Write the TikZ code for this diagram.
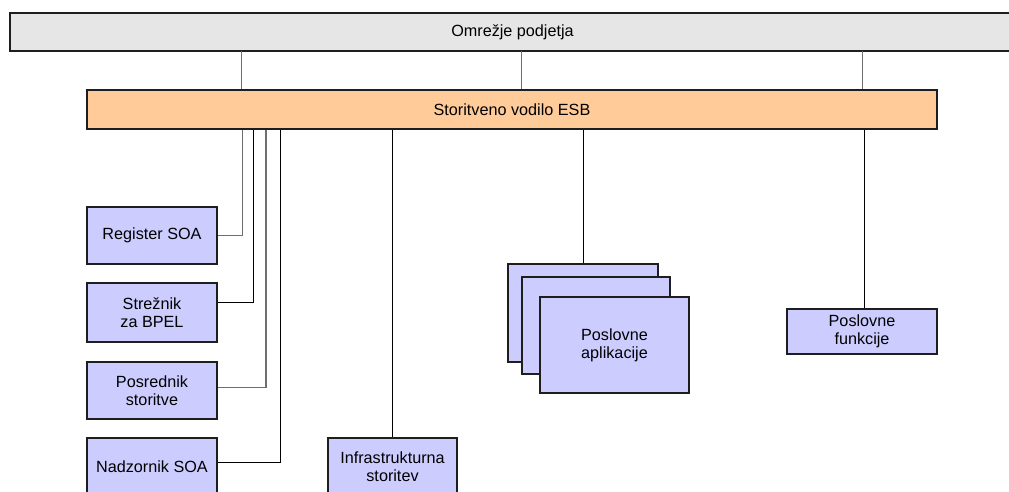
\documentclass[tikz,border=0pt]{standalone}
\usepackage{fontspec}
\setmainfont{Liberation Sans}
\definecolor{netfill}{RGB}{230,230,230}
\definecolor{busfill}{RGB}{255,204,153}
\definecolor{boxfill}{RGB}{204,204,255}
\definecolor{edge}{RGB}{30,30,30}
\definecolor{wiregray}{RGB}{110,110,110}
\begin{document}
\begin{tikzpicture}[x=1pt,y=-1pt,
  every node/.style={font=\fontsize{16.2}{18}\selectfont, align=center, inner sep=0pt},
  bar/.style={draw=edge, line width=1.2pt, rectangle},
  unit/.style={draw=edge, line width=1.2pt, fill=boxfill, minimum width=130pt, minimum height=57pt},
  wire/.style={draw=black, line width=1pt},
  graywire/.style={draw=wiregray, line width=1pt},
  thickgray/.style={draw=wiregray, line width=1.6pt}]
\useasboundingbox (0,0) rectangle (1009,492);

% network bar, open towards the right edge
\fill[netfill] (10,13) rectangle (1030,51);
\draw[draw=edge, line width=1.2pt] (1030,13) -- (10,13) -- (10,51) -- (1030,51);
\node (net) at (512.5,32) {Omrežje podjetja};
\coordinate (netbase) at (512.5,51);

% service bus bar
\node[bar, fill=busfill, minimum width=850pt, minimum height=39pt] (esb) at (512,109.5) {Storitveno vodilo ESB};

% links between network and bus
\draw[graywire] ([xshift=155pt]esb.north west) -- ([xshift=155pt]esb.north west |- netbase);
\draw[graywire] ([xshift=435pt]esb.north west) -- ([xshift=435pt]esb.north west |- netbase);
\draw[graywire] ([xshift=776pt]esb.north west) -- ([xshift=776pt]esb.north west |- netbase);

% SOA components on the left
\node[unit] (reg) at (152,235.5) {Register SOA};
\node[unit, minimum height=59pt] (srv) at (152,312.5) {Strežnik\\za BPEL};
\node[unit] (brk) at (152,390.5) {Posrednik\\storitve};
\node[unit] (mon) at (152,466.5) {Nadzornik SOA};

\draw[graywire] ([xshift=156pt]esb.south west) |- (reg.east);
\draw[wire] ([xshift=166.7pt]esb.south west) |- ([yshift=10pt]srv.east);
\draw[thickgray] ([xshift=179.7pt]esb.south west) |- ([yshift=3pt]brk.east);
\draw[wire] ([xshift=193.7pt]esb.south west) |- ([yshift=4.5pt]mon.east);

% infrastructure service
\node[unit, minimum width=129pt, minimum height=58pt] (inf) at (392.5,467) {Infrastrukturna\\storitev};
\draw[wire] (esb.south -| inf.north) -- (inf.north);

% stacked business applications
\node[unit, minimum width=150pt, minimum height=98pt] (app1) at (583,313) {};
\node[unit, minimum width=148pt, minimum height=97pt] (app2) at (596,325.5) {};
\node[unit, minimum width=149pt, minimum height=96pt] (app3) at (614.5,345) {Poslovne\\aplikacije};
\draw[wire] (esb.south -| app1.north) -- (app1.north);

% business functions
\node[unit, minimum width=150pt, minimum height=45pt] (fun) at (862,331.5) {Poslovne\\funkcije};
\draw[wire] ([xshift=2pt]esb.south -| fun.north) -- ([xshift=2pt]fun.north);
\end{tikzpicture}
\end{document}
